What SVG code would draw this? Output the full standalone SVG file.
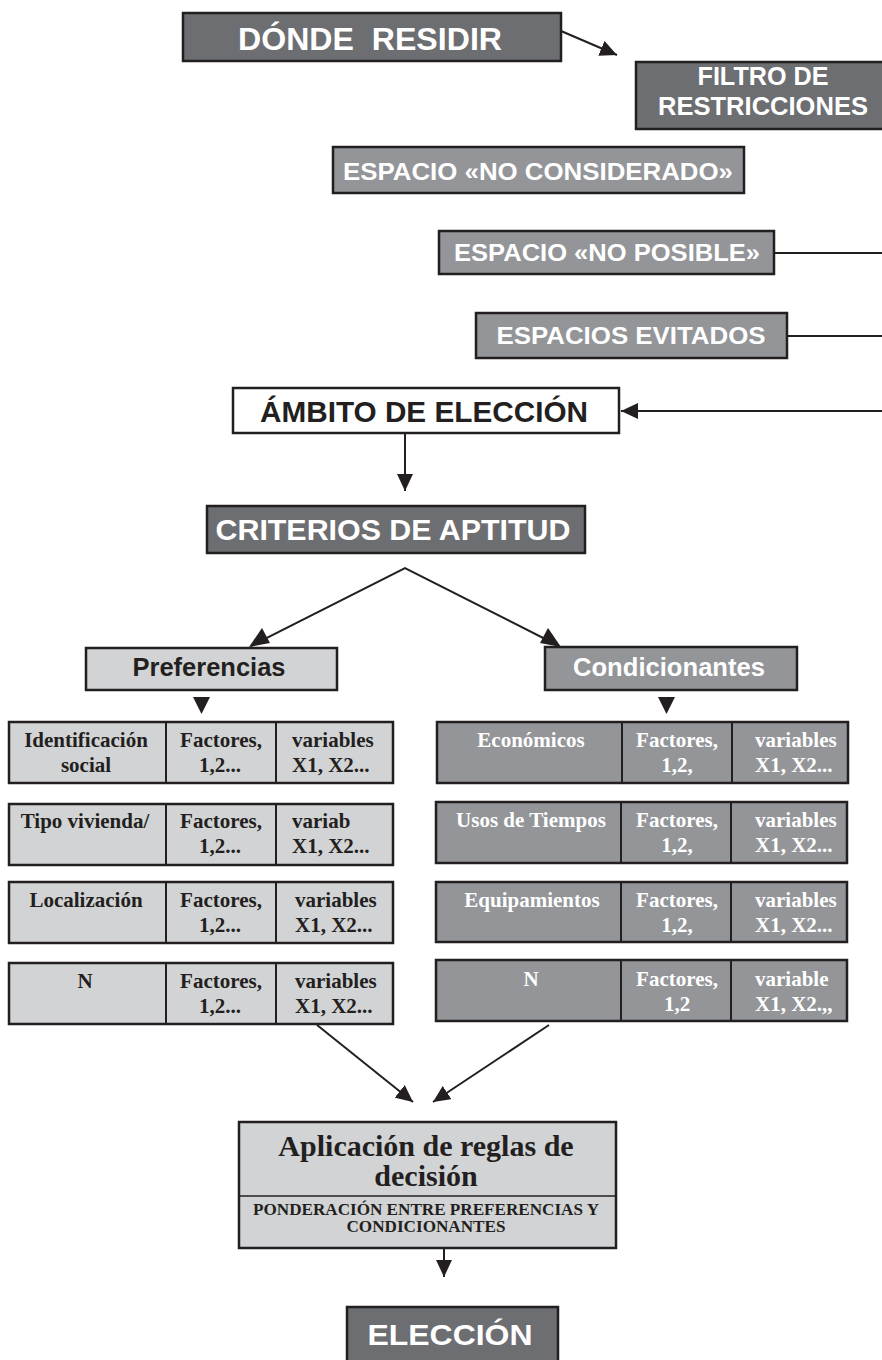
<svg xmlns="http://www.w3.org/2000/svg" width="882" height="1360" viewBox="0 0 882 1360">
<style>
.dark{fill:#6d6e71;stroke:#231f20;stroke-width:2.5}
.mid{fill:#939598;stroke:#231f20;stroke-width:2.5}
.light{fill:#d1d3d4;stroke:#231f20;stroke-width:2.5}
.white{fill:#ffffff;stroke:#231f20;stroke-width:2.5}
.div{stroke:#231f20;stroke-width:2;fill:none}
.hw{font-family:"Liberation Sans",Arial,sans-serif;font-weight:bold;fill:#ffffff;text-anchor:middle}
.hb{font-family:"Liberation Sans",Arial,sans-serif;font-weight:bold;fill:#231f20;text-anchor:middle}
.tb{font-family:"Liberation Serif","Times New Roman",serif;font-weight:bold;fill:#231f20;font-size:21px}
.tw{font-family:"Liberation Serif","Times New Roman",serif;font-weight:bold;fill:#ffffff;font-size:21px}
.mc{text-anchor:middle}
.conn{stroke:#231f20;stroke-width:2;fill:none}
.head{fill:#231f20}
</style>
<defs>
<marker id="arr" markerUnits="userSpaceOnUse" markerWidth="18" markerHeight="16" refX="17" refY="8" orient="auto">
<path d="M0,0 L17,8 L0,16 z" fill="#231f20"/>
</marker>
</defs>
<rect width="882" height="1360" fill="#ffffff"/>

<g id="connectors">
<line class="conn" x1="561" y1="31" x2="617" y2="55" marker-end="url(#arr)"/>
<line class="conn" x1="774" y1="253" x2="882" y2="253"/>
<line class="conn" x1="787" y1="336" x2="882" y2="336"/>
<line class="conn" x1="882" y1="411" x2="621" y2="411" marker-end="url(#arr)"/>
<line class="conn" x1="405" y1="433" x2="405" y2="491" marker-end="url(#arr)"/>
<polyline class="conn" points="251,646 405,568 559,646"/>
<path class="head" d="M249,647 L262,628 L270,643 z"/>
<path class="head" d="M561,647 L548,628 L540,643 z"/>
<path class="head" d="M193,697 L210,697 L201.5,714 z"/>
<path class="head" d="M658,697 L675,697 L666.5,714 z"/>
<line class="conn" x1="317" y1="1025" x2="413" y2="1102" marker-end="url(#arr)"/>
<line class="conn" x1="549" y1="1025" x2="433" y2="1102" marker-end="url(#arr)"/>
<line class="conn" x1="444" y1="1248" x2="444" y2="1277" marker-end="url(#arr)"/>
</g>

<g id="donde-residir">
<rect class="dark" x="183" y="13" width="378" height="48"/>
<text class="hw" x="370" y="50" font-size="31" textLength="264" lengthAdjust="spacingAndGlyphs" style="white-space:pre">DÓNDE  RESIDIR</text>
</g>

<g id="filtro">
<rect class="dark" x="636" y="62" width="260" height="67"/>
<text class="hw" x="763" y="85" font-size="25" textLength="131" lengthAdjust="spacingAndGlyphs">FILTRO DE</text>
<text class="hw" x="763" y="115" font-size="25" textLength="210" lengthAdjust="spacingAndGlyphs">RESTRICCIONES</text>
</g>

<g id="no-considerado">
<rect class="mid" x="333" y="147" width="411" height="46"/>
<text class="hw" x="538" y="180" font-size="24" textLength="390" lengthAdjust="spacingAndGlyphs">ESPACIO «NO CONSIDERADO»</text>
</g>

<g id="no-posible">
<rect class="mid" x="439" y="231" width="335" height="43"/>
<text class="hw" x="607" y="261" font-size="24" textLength="306" lengthAdjust="spacingAndGlyphs">ESPACIO «NO POSIBLE»</text>
</g>

<g id="evitados">
<rect class="mid" x="476" y="313" width="311" height="45"/>
<text class="hw" x="631" y="344" font-size="24" textLength="269" lengthAdjust="spacingAndGlyphs">ESPACIOS EVITADOS</text>
</g>

<g id="ambito">
<rect class="white" x="233" y="388" width="386" height="45"/>
<text class="hb" x="424" y="422" font-size="30" textLength="328" lengthAdjust="spacingAndGlyphs">ÁMBITO DE ELECCIÓN</text>
</g>

<g id="criterios">
<rect class="dark" x="207" y="506" width="378" height="47"/>
<text class="hw" x="393" y="540" font-size="30" textLength="355" lengthAdjust="spacingAndGlyphs">CRITERIOS DE APTITUD</text>
</g>

<g id="preferencias">
<rect class="light" x="86" y="648" width="251" height="42"/>
<text class="hb" x="209" y="676" font-size="25" textLength="153" lengthAdjust="spacingAndGlyphs">Preferencias</text>
</g>

<g id="condicionantes">
<rect class="mid" x="545" y="647" width="252" height="43"/>
<text class="hw" x="669" y="676" font-size="25" textLength="192" lengthAdjust="spacingAndGlyphs">Condicionantes</text>
</g>

<g id="pref-identificacion">
<rect class="light" x="9" y="722" width="384" height="61"/>
<line class="div" x1="166" y1="722" x2="166" y2="783"/>
<line class="div" x1="276" y1="722" x2="276" y2="783"/>
<text class="tb mc" x="86" y="747">Identificación</text>
<text class="tb mc" x="86" y="772">social</text>
<text class="tb mc" x="221" y="747">Factores,</text>
<text class="tb mc" x="220" y="772">1,2...</text>
<text class="tb" x="292" y="747">variables</text>
<text class="tb" x="292" y="772">X1, X2...</text>
</g>

<g id="pref-tipo-vivienda">
<rect class="light" x="9" y="804" width="384" height="61"/>
<line class="div" x1="166" y1="804" x2="166" y2="865"/>
<line class="div" x1="276" y1="804" x2="276" y2="865"/>
<text class="tb mc" x="85" y="828">Tipo vivienda/</text>
<text class="tb mc" x="221" y="828">Factores,</text>
<text class="tb mc" x="220" y="853">1,2...</text>
<text class="tb" x="292" y="828">variab</text>
<text class="tb" x="292" y="853">X1, X2...</text>
</g>

<g id="pref-localizacion">
<rect class="light" x="9" y="882" width="384" height="61"/>
<line class="div" x1="166" y1="882" x2="166" y2="943"/>
<line class="div" x1="276" y1="882" x2="276" y2="943"/>
<text class="tb mc" x="86" y="907">Localización</text>
<text class="tb mc" x="221" y="907">Factores,</text>
<text class="tb mc" x="220" y="932">1,2...</text>
<text class="tb" x="295" y="907">variables</text>
<text class="tb" x="295" y="932">X1, X2...</text>
</g>

<g id="pref-n">
<rect class="light" x="9" y="963" width="384" height="61"/>
<line class="div" x1="166" y1="963" x2="166" y2="1024"/>
<line class="div" x1="276" y1="963" x2="276" y2="1024"/>
<text class="tb mc" x="85" y="988">N</text>
<text class="tb mc" x="221" y="988">Factores,</text>
<text class="tb mc" x="220" y="1013">1,2...</text>
<text class="tb" x="295" y="988">variables</text>
<text class="tb" x="295" y="1013">X1, X2...</text>
</g>

<g id="cond-economicos">
<rect class="mid" x="437" y="722" width="411" height="61"/>
<line class="div" x1="622" y1="722" x2="622" y2="783"/>
<line class="div" x1="732" y1="722" x2="732" y2="783"/>
<text class="tw mc" x="531" y="747">Económicos</text>
<text class="tw mc" x="677" y="747">Factores,</text>
<text class="tw mc" x="677" y="772">1,2,</text>
<text class="tw" x="755" y="747">variables</text>
<text class="tw" x="755" y="772">X1, X2...</text>
</g>

<g id="cond-usos-tiempos">
<rect class="mid" x="436" y="802" width="411" height="61"/>
<line class="div" x1="621" y1="802" x2="621" y2="863"/>
<line class="div" x1="731" y1="802" x2="731" y2="863"/>
<text class="tw mc" x="531" y="827">Usos de Tiempos</text>
<text class="tw mc" x="677" y="827">Factores,</text>
<text class="tw mc" x="677" y="852">1,2,</text>
<text class="tw" x="755" y="827">variables</text>
<text class="tw" x="755" y="852">X1, X2...</text>
</g>

<g id="cond-equipamientos">
<rect class="mid" x="436" y="882" width="411" height="60"/>
<line class="div" x1="621" y1="882" x2="621" y2="942"/>
<line class="div" x1="731" y1="882" x2="731" y2="942"/>
<text class="tw mc" x="532" y="907">Equipamientos</text>
<text class="tw mc" x="677" y="907">Factores,</text>
<text class="tw mc" x="677" y="932">1,2,</text>
<text class="tw" x="755" y="907">variables</text>
<text class="tw" x="755" y="932">X1, X2...</text>
</g>

<g id="cond-n">
<rect class="mid" x="436" y="960" width="411" height="61"/>
<line class="div" x1="621" y1="960" x2="621" y2="1021"/>
<line class="div" x1="731" y1="960" x2="731" y2="1021"/>
<text class="tw mc" x="531" y="986">N</text>
<text class="tw mc" x="677" y="986">Factores,</text>
<text class="tw mc" x="677" y="1011">1,2</text>
<text class="tw" x="755" y="986">variable</text>
<text class="tw" x="755" y="1011">X1, X2.,,</text>
</g>

<g id="aplicacion">
<rect class="light" x="239" y="1122" width="377" height="126"/>
<line class="div" x1="239" y1="1196" x2="616" y2="1196" style="stroke-width:1.5"/>
<text class="tb mc" x="426" y="1156" style="font-size:30px">Aplicación de reglas de</text>
<text class="tb mc" x="426" y="1186" style="font-size:30px">decisión</text>
<text class="tb mc" x="426" y="1215" style="font-size:16.5px" textLength="346" lengthAdjust="spacingAndGlyphs">PONDERACIÓN ENTRE PREFERENCIAS Y</text>
<text class="tb mc" x="426" y="1232" style="font-size:16.5px" textLength="159" lengthAdjust="spacingAndGlyphs">CONDICIONANTES</text>
</g>

<g id="eleccion">
<rect class="dark" x="347" y="1307" width="211" height="60"/>
<text class="hw" x="450" y="1345" font-size="30" textLength="165" lengthAdjust="spacingAndGlyphs">ELECCIÓN</text>
</g>
</svg>
